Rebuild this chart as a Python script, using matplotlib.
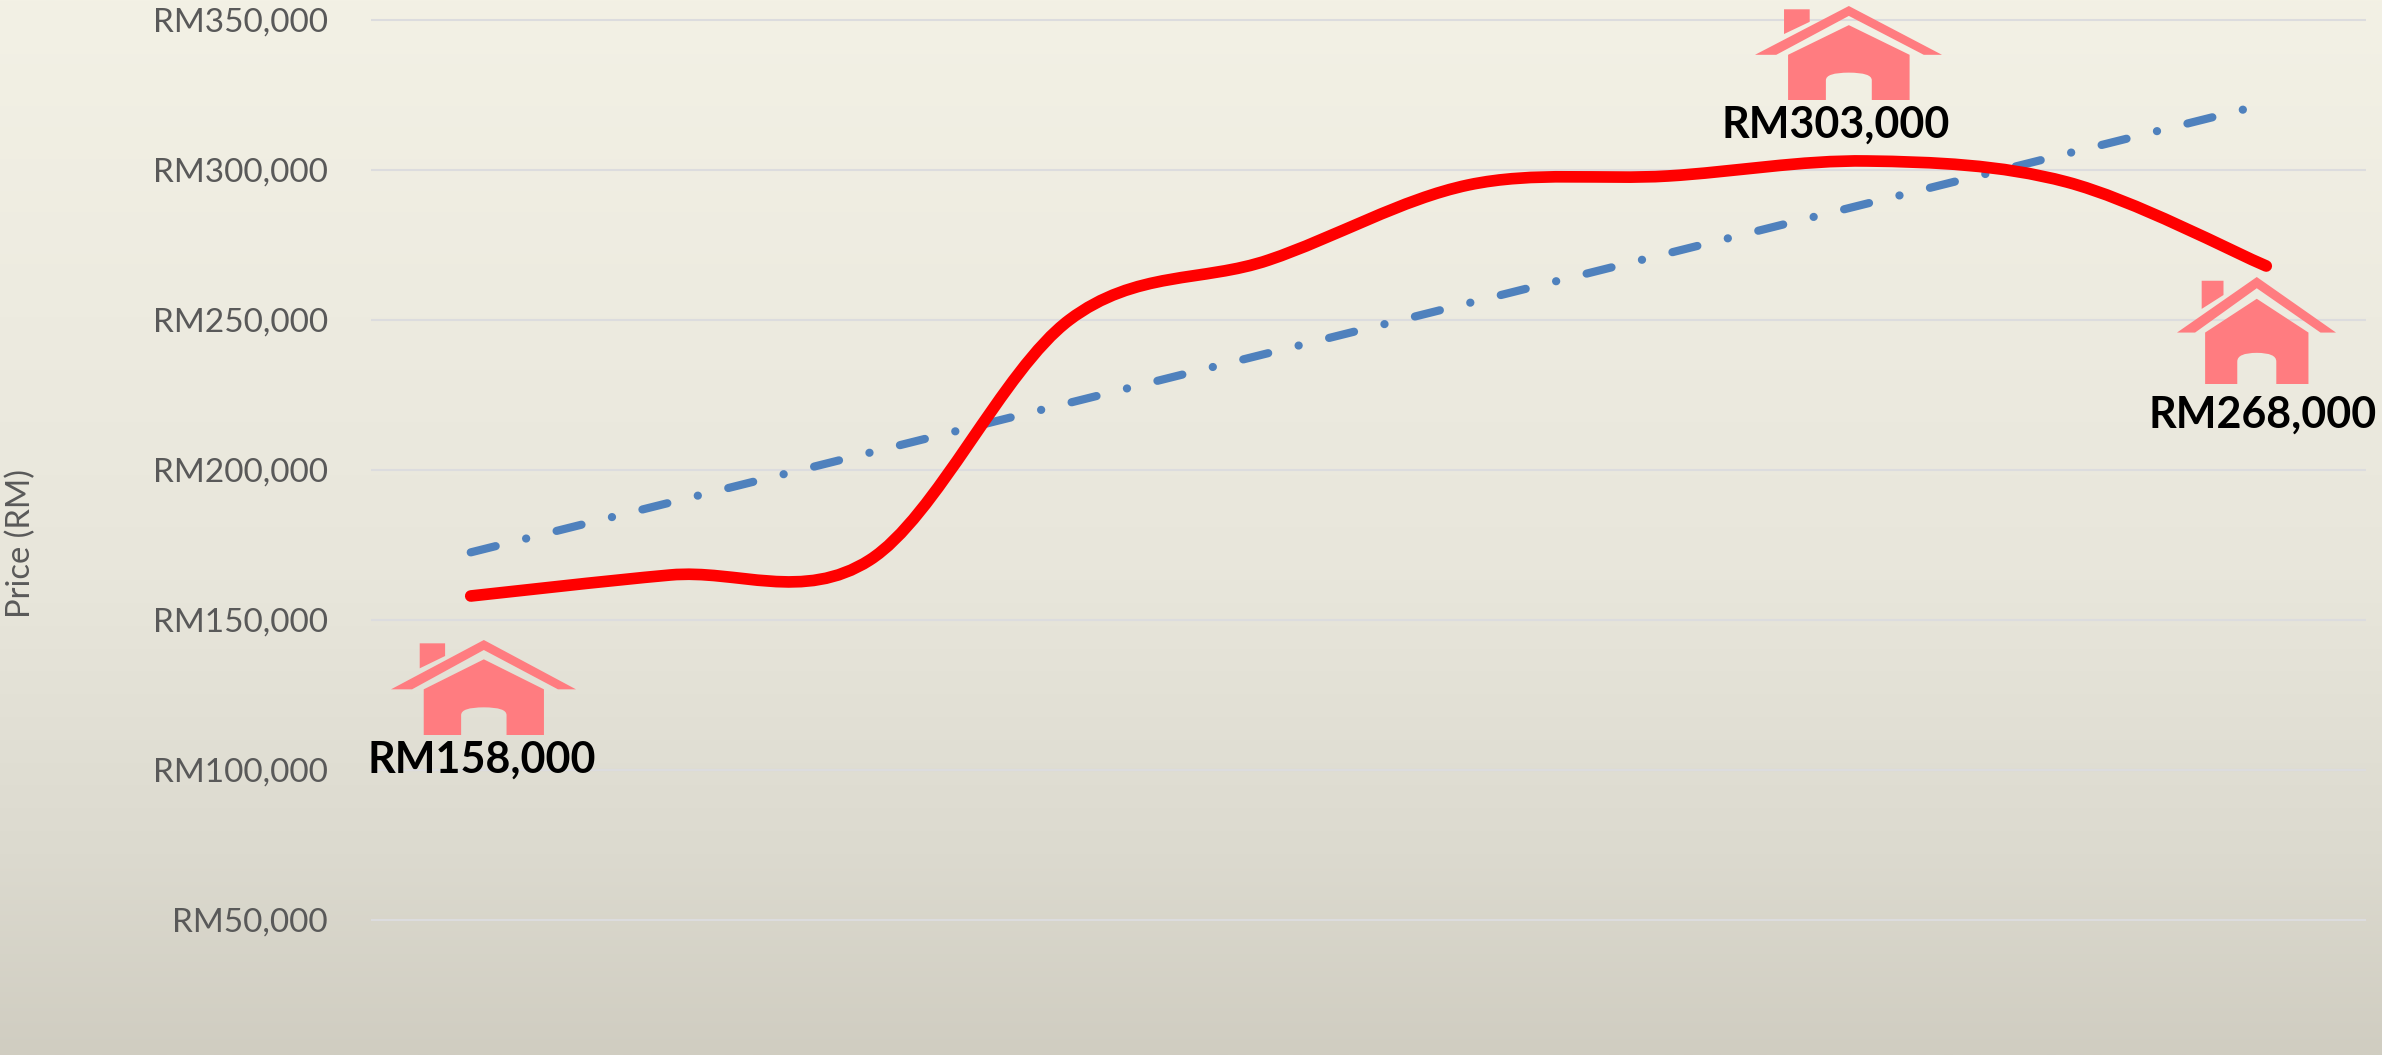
# -*- coding: UTF-8 -*-
import numpy as np
import matplotlib
matplotlib.use('Agg')
import matplotlib.pyplot as plt
from matplotlib.path import Path
from matplotlib.patches import PathPatch
from matplotlib.transforms import Affine2D

plt.rcParams['font.family'] = ['Lato', 'DejaVu Sans']
plt.rcParams['lines.scale_dashes'] = False

# Data
points = np.arange(10)
price = [158000, 165000, 170000, 250000, 270000, 295000, 298000, 303000, 296000, 268000]
y_ticks = [50000, 100000, 150000, 200000, 250000, 300000, 350000]
labelled = [0, 7, 9]

# Background gradient, top to bottom
bg_pos = [0.0, 0.3, 0.55, 0.81, 1.0]
bg_rgb = [(243, 241, 229), (237, 235, 224), (232, 230, 219), (220, 218, 207), (208, 205, 193)]

W, H, DPI = 2382, 1055, 100
fig = plt.figure(figsize=(W / DPI, H / DPI), dpi=DPI)

# gradient goes in its own full-figure axes behind the chart
bg = fig.add_axes([0, 0, 1, 1], zorder=-1)
rows = np.linspace(0, 1, 512)
grad = np.stack([np.interp(rows, bg_pos, [c[i] for c in bg_rgb]) for i in range(3)], axis=1) / 255
bg.imshow(grad[:, None, :], aspect='auto', interpolation='bilinear')
bg.axis('off')

ax = fig.add_axes([371 / W, 0, 1995 / W, 1])
ax.patch.set_visible(False)
ax.set_xlim(-0.5, 9.5)
ax.set_ylim(350000 - (H - 20) / 0.003, 350000 + 20 / 0.003)
for s in ax.spines.values():
    s.set_visible(False)
ax.set_xticks([])
ax.set_yticks(y_ticks)
ax.set_yticklabels([f'RM{v:,}' for v in y_ticks], fontsize=24, color='#595959')
ax.tick_params(axis='y', length=0, pad=31)
ax.grid(axis='y', color='#DCDCDE', lw=1.5)
ax.set_axisbelow(True)

# Trendline of the price series
slope, icpt = np.polyfit(points, price, 1)
ax.plot(points[[0, -1]], slope * points[[0, -1]] + icpt, color='#4F81BD', lw=5.9,
        dashes=(18.5, 22.55, 0.1, 22.55), dash_capstyle='round', zorder=2)

# Smoothed price line (same tangent rule as a spreadsheet smooth line)
pts = np.column_stack([points, price]).astype(float)
verts = [pts[0]]
codes = [Path.MOVETO]
for i in range(len(pts) - 1):
    before = pts[max(i - 1, 0)]
    after = pts[min(i + 2, len(pts) - 1)]
    verts += [pts[i] + (pts[i + 1] - before) / 6, pts[i + 1] - (after - pts[i]) / 6, pts[i + 1]]
    codes += [Path.CURVE4] * 3
ax.add_patch(PathPatch(Path(verts, codes), fill=False, edgecolor='#FF0000', lw=8.4,
                       capstyle='round', zorder=3))

# House icon in a unit box (u right, v up)
def uv(x, y):
    return ((x - 152) / 554, (405 - y) / 285)

house_verts = [uv(*p) for p in [
    (430, 120), (706, 268), (652, 268), (430, 150), (215, 268), (152, 268), (430, 120),
    (238, 130), (314, 130), (314, 168), (238, 205), (238, 130),
    (250, 268), (430, 178), (610, 268), (610, 405), (498, 405), (498, 345), (498, 322),
    (430, 322), (362, 322), (362, 345), (362, 405), (250, 405), (250, 268)]]
house_codes = ([Path.MOVETO] + [Path.LINETO] * 5 + [Path.CLOSEPOLY]
               + [Path.MOVETO] + [Path.LINETO] * 3 + [Path.CLOSEPOLY]
               + [Path.MOVETO] + [Path.LINETO] * 5 + [Path.CURVE3] * 4 + [Path.LINETO] * 2 + [Path.CLOSEPOLY])
house = Path(house_verts, house_codes)

# left, top, width, height of each icon in image pixels
house_boxes = [(391, 640, 185, 95), (1755, 6, 187, 94), (2177, 277, 159, 107)]
for left, top, w, h in house_boxes:
    t = Affine2D().scale(w, h).translate(left, H - top - h)
    ax.add_patch(PathPatch(house, transform=t, facecolor='#FF7C80', edgecolor='none',
                           clip_on=False, zorder=4))

# Value labels, offset in pixels from their points
label_offsets = [(11, -177), (-32, 23), (-4, -162)]
for idx, off in zip(labelled, label_offsets):
    ax.annotate(f'RM{price[idx]:,}', (points[idx], price[idx]), xytext=off,
                textcoords='offset pixels', ha='center', va='baseline',
                fontsize=31, fontweight='bold', color='black', annotation_clip=False, zorder=5)

fig.text(21 / W, 1 - 544 / H, 'Price (RM)', rotation=90, ha='center', va='center',
         fontsize=23.5, color='#595959')

fig.savefig('out.png', dpi=DPI)
